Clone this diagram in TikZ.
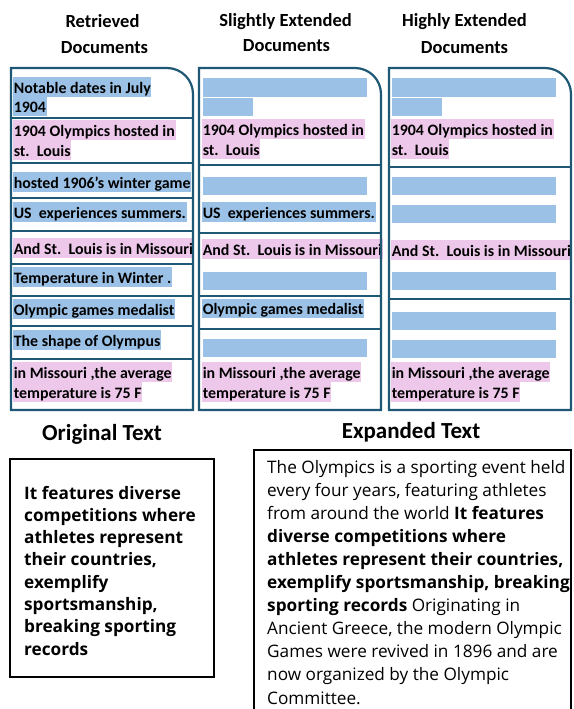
\documentclass[tikz,border=0pt]{standalone}
\usepackage{fontspec}
\setmainfont{Carlito}
\newfontfamily\notofont{Open Sans}
\definecolor{bordc}{RGB}{31,88,116}
\definecolor{hlblue}{RGB}{155,194,230}
\definecolor{hlpink}{RGB}{238,200,234}
\newcommand{\docf}{\fontsize{15.9}{18}\selectfont\bfseries}
\newcommand{\headf}{\fontsize{18.5}{20}\selectfont\bfseries}
\newcommand{\bighead}{\fontsize{23}{25}\selectfont\bfseries}
\newcommand{\boxf}{\notofont\fontsize{17.2}{20}\selectfont}
\tikzset{
  colbox/.style={draw=bordc, line width=2.2pt},
  sepline/.style={draw=bordc, line width=2.2pt},
  hlbase/.style={inner xsep=0.6pt, inner ysep=0pt, text height=16pt, text depth=3.5pt, anchor=base west, font=\docf},
  hlb/.style={hlbase, fill=hlblue},
  hlp/.style={hlbase, fill=hlpink},
  blankbar/.style={fill=hlblue},
  headnode/.style={font=\headf, anchor=base},
  bigheadnode/.style={font=\bighead, anchor=base},
  txtbox/.style={draw=black, line width=1.8pt},
  boxline/.style={font=\boxf, anchor=base west, inner sep=0pt},
}
\begin{document}
\begin{tikzpicture}[x=1pt,y=-1pt]
\useasboundingbox (0,0) rectangle (573,709);

% headers
\node[headnode] (h1a) at (102.5,28) {Retrieved};
\node[headnode] (h1b) at (104.5,53) {Documents};
\node[headnode] (h2a) at (285.5,27) {Slightly Extended};
\node[headnode] (h2b) at (286.5,52) {Documents};
\node[headnode] (h3a) at (464.5,27) {Highly Extended};
\node[headnode] (h3b) at (464.5,53) {Documents};

% ---------- column 1 ----------
\node[hlb] (a1) at (13,93) {Notable dates in July};
\node[hlb] (a2) at (13,112) {1904};
\node[hlp] (a3) at (13,136) {1904 Olympics hosted in};
\node[hlp] (a4) at (13,156) {st.~~Louis};
\node[hlb] (a5) at (13,188) {hosted 1906’s winter game};
\node[hlb] (a6) at (13,218) {US~~experiences summers.};
\node[hlp] (a7) at (13,254) {And St.~~Louis is in Missouri};
\node[hlb] (a8) at (13,283) {Temperature in Winter .};
\node[hlb] (a9) at (13,315) {Olympic games medalist};
\node[hlb] (a10) at (13,346) {The shape of Olympus};
\node[hlp] (a11) at (13,378) {in Missouri ,the average};
\node[hlp] (a12) at (13,398) {temperature is 75 F};

\foreach \yy in {118,163,198,231,264,296,326,359}
  \draw[sepline] (11,\yy) -- (193,\yy);
\draw[colbox] (11,410) -- (11,68) -- (167,68) arc[start angle=-90, end angle=0, radius=26] -- (193,410) -- cycle;

% ---------- column 2 ----------
\fill[blankbar] (203,78) rectangle (367,97);
\fill[blankbar] (203,98) rectangle (253,116);
\node[hlp] (b1) at (202,135) {1904 Olympics hosted in};
\node[hlp] (b2) at (202,155) {st.~~Louis};
\fill[blankbar] (203,177) rectangle (367,195);
\node[hlb] (b3) at (202,218) {US~~experiences summers.};
\node[hlp] (b4) at (202,255) {And St.~~Louis is in Missouri};
\fill[blankbar] (203,272) rectangle (367,290);
\node[hlb] (b5) at (202,314.5) {Olympic games medalist};
\fill[blankbar] (203,339) rectangle (367,357);
\node[hlp] (b6) at (202,378) {in Missouri ,the average};
\node[hlp] (b7) at (202,398) {temperature is 75 F};

\foreach \yy in {165,233,296,329}
  \draw[sepline] (199,\yy) -- (381,\yy);
\draw[colbox] (199,410) -- (199,68) -- (355,68) arc[start angle=-90, end angle=0, radius=26] -- (381,410) -- cycle;

% ---------- column 3 ----------
\fill[blankbar] (392,78) rectangle (556,97);
\fill[blankbar] (392,98) rectangle (442,116);
\node[hlp] (c1) at (391,135) {1904 Olympics hosted in};
\node[hlp] (c2) at (391,155) {st.~~Louis};
\fill[blankbar] (392,177) rectangle (556,195);
\fill[blankbar] (392,205) rectangle (556,223);
\node[hlp] (c3) at (391,256) {And St.~~Louis is in Missouri};
\fill[blankbar] (392,272) rectangle (556,290);
\fill[blankbar] (392,312) rectangle (556,330);
\fill[blankbar] (392,340) rectangle (556,358);
\node[hlp] (c4) at (391,378) {in Missouri ,the average};
\node[hlp] (c5) at (391,398) {temperature is 75 F};

\foreach \yy in {167,299}
  \draw[sepline] (389,\yy) -- (571,\yy);
\draw[colbox] (389,410) -- (389,68) -- (545,68) arc[start angle=-90, end angle=0, radius=26] -- (571,410) -- cycle;

% ---------- bottom ----------
\node[bigheadnode] (oh) at (102,440) {Original Text};
\node[bigheadnode] (eh) at (411,438) {Expanded Text};

\draw[txtbox] (10,459) rectangle (214,677);
\foreach \t [count=\i from 0] in {{It features diverse},{competitions where},{athletes represent},{their countries,},{exemplify},{sportsmanship,},{breaking sporting},{records}}
  \node[boxline, font=\boxf\bfseries] (o\i) at (24,499+\i*22.3) {\t};

\draw[txtbox] (254,712) -- (254,450) -- (571,450) -- (571,712);
\foreach \t [count=\i from 0] in {{The Olympics is a sporting event held},{every four years, featuring athletes},{from around the world \textbf{It features}},{\textbf{diverse competitions where}},{\textbf{athletes represent their countries,}},{\textbf{exemplify sportsmanship, breaking}},{\textbf{sporting records} Originating in},{Ancient Greece, the modern Olympic},{Games were revived in 1896 and are},{now organized by the Olympic},{Committee.}}
  \node[boxline] (e\i) at (267,473+\i*23.1) {\t};
\end{tikzpicture}
\end{document}
